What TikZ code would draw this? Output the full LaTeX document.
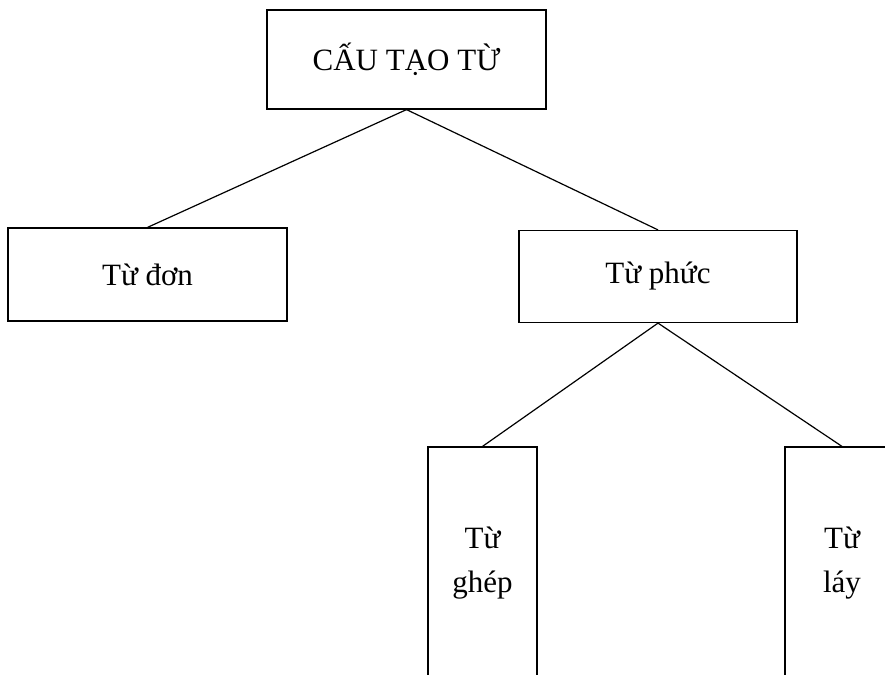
\documentclass[tikz,border=0pt]{standalone}
\usepackage{fontspec}
\setmainfont{Liberation Serif}
\begin{document}
\begin{tikzpicture}[x=1pt,y=1pt,
  box/.style={draw=black,line width=1.2pt,rectangle,inner sep=0pt,
    font=\fontsize{31}{44}\selectfont,align=center},
  link/.style={draw=black,line width=1.2pt}]
\useasboundingbox (0,0) rectangle (885,-674);
\clip (0,0) rectangle (885,-674);
\node[box,minimum width=279,minimum height=99] (top) at (406.5,-59.5) {CẤU TẠO TỪ};
\node[box,minimum width=279,minimum height=93] (don) at (147.5,-274.5) {Từ đơn};
\node[box,minimum width=278,minimum height=92] (phuc) at (658,-276.5) {Từ phức};
\node[box,minimum width=109,minimum height=232] (ghep) at (482.5,-563) {Từ\\ghép};
\node[box,minimum width=114,minimum height=232] (lay) at (842,-563) {Từ\\láy};
\draw[link] (top.south) -- (don.north);
\draw[link] (top.south) -- (phuc.north);
\draw[link] (phuc.south) -- (ghep.north);
\draw[link] (phuc.south) -- (lay.north);
\end{tikzpicture}
\end{document}
